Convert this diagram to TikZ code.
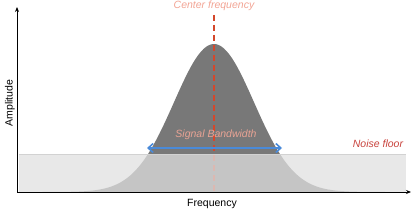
\documentclass[tikz,border=0pt]{standalone}
\usepackage{fontspec}
\setmainfont{Liberation Sans}
\usepackage{tikz}
\usetikzlibrary{arrows.meta,positioning}

\definecolor{peakgray}{HTML}{787878}
\definecolor{floorgray}{HTML}{E0E0E0}
\definecolor{centred}{HTML}{D4472B}
\definecolor{centlabel}{HTML}{F2A494}
\definecolor{bwblue}{HTML}{4A8AD8}
\definecolor{bwlabel}{HTML}{E9A394}
\definecolor{noisered}{HTML}{C8423C}

\tikzset{
  axis/.style={line width=0.9pt, -{Stealth[length=5pt,width=4pt]}},
  lbl/.style={font=\fontsize{10.5}{12}\selectfont\itshape, inner sep=0pt},
  axlbl/.style={font=\fontsize{10.5}{12}\selectfont, inner sep=0pt}
}

\begin{document}
\begin{tikzpicture}[x=1pt,y=1pt]
\useasboundingbox (0,0) rectangle (417,212);
% signal peak
\fill[peakgray] plot[domain=19:406, samples=150, smooth]
  (\x, {20+148*exp(-0.5*((\x-214)/40)^2)}) -- (406,20) -- (19,20) -- cycle;
% center frequency line
\coordinate (ctop) at (214,197);
\coordinate (cbot) at (214,20);
\draw[centred, line width=1.6pt, dash pattern=on 6pt off 4pt] (ctop) -- (cbot);
% noise floor
\fill[floorgray, opacity=0.74] (19,20) rectangle (406,58);
\draw[gray!35, line width=0.6pt] (19,58) -- (406,58);
% bandwidth arrow
\coordinate (bwl) at (147,64);
\coordinate (bwr) at (282,64);
\draw[bwblue, line width=1.6pt, {Straight Barb[length=5pt,width=9pt]}-{Straight Barb[length=5pt,width=9pt]}] (bwl) -- (bwr);
% labels
\node[lbl, text=centlabel] (center) at (214,206) {Center frequency};
\node[lbl, text=bwlabel] (bw) at (216,77) {Signal Bandwidth};
\node[lbl, text=noisered] (noise) at (378,68) {Noise floor};
\node[axlbl, rotate=90] (amp) at (10,109) {Amplitude};
\node[axlbl] (freq) at (212,8) {Frequency};
% axes
\coordinate (origin) at (17,20);
\coordinate (ytop) at (17,205);
\coordinate (xend) at (411,20);
\draw[axis] (origin) -- (ytop);
\draw[axis] (origin) -- (xend);
\end{tikzpicture}
\end{document}
